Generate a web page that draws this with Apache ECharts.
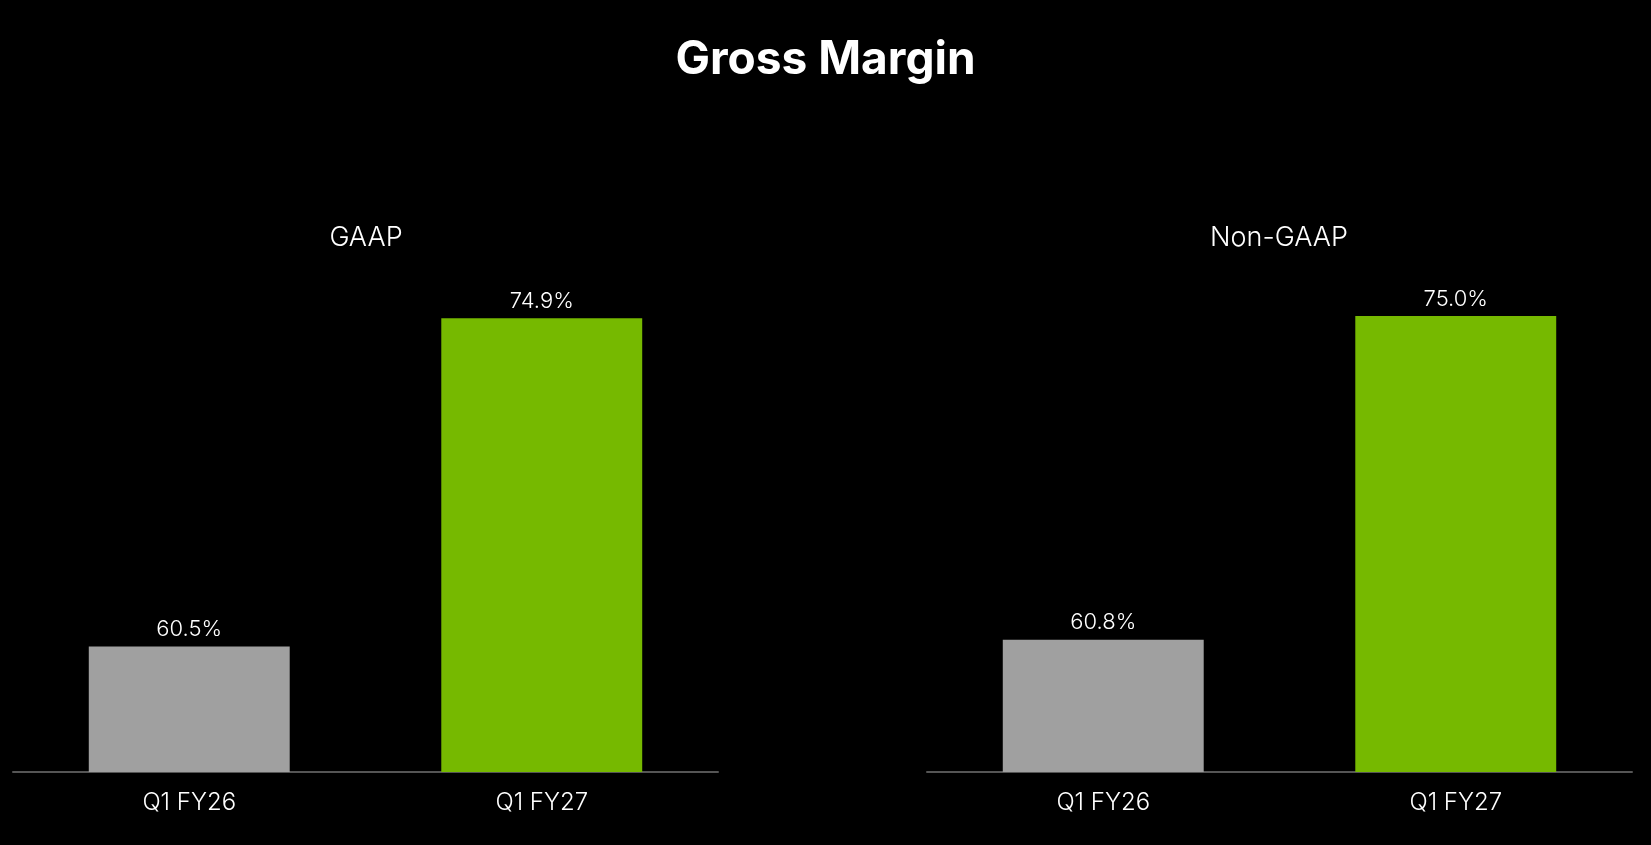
<!DOCTYPE html>
<html>
<head>
<meta charset="utf-8">
<script src="https://cdn.jsdelivr.net/npm/echarts@6/dist/echarts.min.js"></script>
<style>
html,body{margin:0;padding:0;background:#000;}
#chart{width:1651px;height:845px;}
</style>
</head>
<body>
<div id="chart"></div>
<script>
const chartTitle = 'Gross Margin';
const panelTitles = ['GAAP', 'Non-GAAP'];
const categories = ['Q1 FY26', 'Q1 FY27'];
const gaapValues = [60.5, 74.9];
const nonGaapValues = [60.8, 75.0];
const barColors = ['#a0a0a0', '#76b900'];
const axisMin = 55;
const axisMax = 75;

const chart = echarts.init(document.getElementById('chart'));
const font = 'Inter, "Noto Sans", sans-serif';

function makeData(vals) {
  return vals.map((v, i) => ({ value: v, itemStyle: { color: barColors[i] } }));
}

const grids = [
  { left: 13, width: 705, top: 316, bottom: 73 },
  { left: 927, width: 705, top: 316, bottom: 73 }
];

const option = {
  backgroundColor: '#000',
  animation: false,
  title: [
    { text: chartTitle, left: 'center', top: 32, textStyle: { color: '#fff', fontSize: 46, fontWeight: 'bold', fontFamily: font } },
    { text: panelTitles[0], left: 361, textAlign: 'center', top: 219, textStyle: { color: '#fff', fontSize: 27, fontWeight: 300, fontFamily: font } },
    { text: panelTitles[1], left: 1274, textAlign: 'center', top: 219, textStyle: { color: '#fff', fontSize: 27, fontWeight: 300, fontFamily: font } }
  ],
  grid: grids,
  xAxis: [0, 1].map(i => ({
    type: 'category', gridIndex: i, data: categories,
    axisLine: { show: true, lineStyle: { color: '#555', width: 2 } },
    axisTick: { show: false },
    axisLabel: { color: '#fff', fontSize: 24, fontWeight: 300, fontFamily: font, margin: 19 }
  })),
  yAxis: [0, 1].map(i => ({
    type: 'value', gridIndex: i, min: axisMin, max: axisMax,
    show: false, splitLine: { show: false }
  })),
  series: [gaapValues, nonGaapValues].map((vals, i) => ({
    type: 'bar', xAxisIndex: i, yAxisIndex: i, data: makeData(vals),
    barWidth: '57%',
    label: { show: true, position: 'top', distance: 6, color: '#fff', fontSize: 22, fontWeight: 300, fontFamily: font,
      formatter: p => p.value.toFixed(1) + '%' }
  }))
};
chart.setOption(option);
</script>
</body>
</html>
